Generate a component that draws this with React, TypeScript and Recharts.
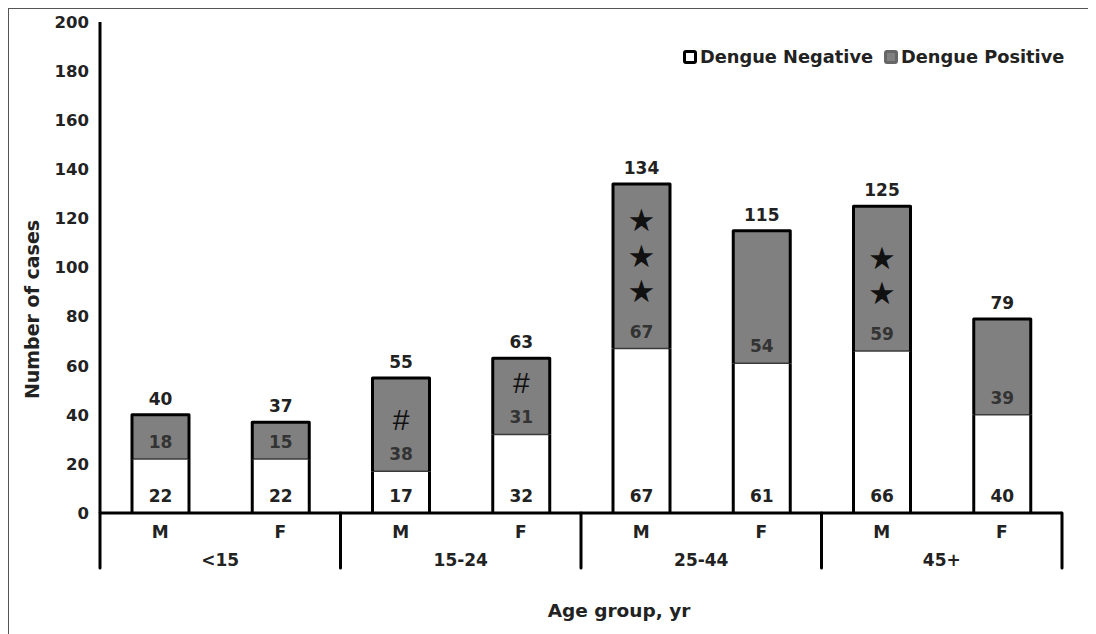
import React from 'react';
import { Bar, BarChart, LabelList, XAxis, YAxis } from 'recharts';

const SEXES = ['M', 'F', 'M', 'F', 'M', 'F', 'M', 'F'];
const AGE_GROUPS = ['<15', '15-24', '25-44', '45+'];
const NEGATIVE = [22, 22, 17, 32, 67, 61, 66, 40];
const POSITIVE = [18, 15, 38, 31, 67, 54, 59, 39];
const MARKS = ['', '', '#', '#', '★★★', '', '★★', ''];
const Y_TICKS = [0, 20, 40, 60, 80, 100, 120, 140, 160, 180, 200];

const FONT = '"DejaVu Sans", Verdana, sans-serif';
const HASH_FONT = '"Liberation Sans", Arial, sans-serif';

const data = SEXES.map((sex, i) => ({
  key: `${sex}-${i}`,
  sex,
  negative: NEGATIVE[i],
  positive: POSITIVE[i],
}));

const PLOT_WIDTH = 962;
const SLOT = PLOT_WIDTH / SEXES.length;

function NegativeShape(props: any) {
  const { x, y, width, height } = props;
  return (
    <g>
      <rect x={x} y={y} width={width} height={height} fill="#fff" />
      <line x1={x} y1={y} x2={x} y2={y + height} stroke="#000" strokeWidth={3} />
      <line x1={x + width} y1={y} x2={x + width} y2={y + height} stroke="#000" strokeWidth={3} />
    </g>
  );
}

function PositiveShape(props: any) {
  const { x, y, width, height } = props;
  return (
    <g>
      <rect x={x} y={y} width={width} height={height} fill="#808080" />
      <line x1={x} y1={y + height} x2={x + width} y2={y + height} stroke="#3a3a3a" strokeWidth={1.5} />
      <path
        d={`M${x},${y + height} L${x},${y} L${x + width},${y} L${x + width},${y + height}`}
        fill="none"
        stroke="#000"
        strokeWidth={3}
        strokeLinejoin="round"
      />
    </g>
  );
}

function NegativeLabel(props: any) {
  const { x, y, width, height, value } = props;
  return (
    <text
      x={x + width / 2}
      y={y + height - 16}
      textAnchor="middle"
      dominantBaseline="middle"
      fontFamily={FONT}
      fontWeight="bold"
      fontSize={17}
      fill="#222"
    >
      {value}
    </text>
  );
}

function PositiveLabel(props: any) {
  const { x, y, width, height, value, index } = props;
  const cx = x + width / 2;
  const labelY = y + height - 16;
  const marks = Array.from(MARKS[index] || '');
  return (
    <g>
      <text
        x={cx}
        y={labelY}
        textAnchor="middle"
        dominantBaseline="middle"
        fontFamily={FONT}
        fontWeight="bold"
        fontSize={17}
        fill="#333"
      >
        {value}
      </text>
      <text
        x={cx}
        y={y - 15}
        textAnchor="middle"
        dominantBaseline="middle"
        fontFamily={FONT}
        fontWeight="bold"
        fontSize={17}
        fill="#222"
      >
        {NEGATIVE[index] + POSITIVE[index]}
      </text>
      {marks.map((m, k) => (
        <text
          key={k}
          x={cx}
          y={labelY - (m === '#' ? 33 : 39) - k * 35.5}
          textAnchor="middle"
          dominantBaseline="middle"
          fontFamily={m === '#' ? HASH_FONT : FONT}
          fontSize={m === '#' ? 30 : 31}
          fill="#111"
        >
          {m}
        </text>
      ))}
    </g>
  );
}

function SexTick(props: any) {
  const { x, y, payload, index } = props;
  const isM = index % 2 === 0;
  return (
    <g>
      <text
        x={x}
        y={y + 20}
        textAnchor="middle"
        dominantBaseline="middle"
        fontFamily={FONT}
        fontWeight="bold"
        fontSize={17}
        fill="#222"
      >
        {payload.value}
      </text>
      {isM && (
        <text
          x={x + SLOT / 2}
          y={y + 48}
          textAnchor="middle"
          dominantBaseline="middle"
          fontFamily={FONT}
          fontWeight="bold"
          fontSize={17}
          fill="#222"
        >
          {AGE_GROUPS[index / 2]}
        </text>
      )}
      {isM && (
        <line x1={x - SLOT / 2} y1={y} x2={x - SLOT / 2} y2={y + 55} stroke="#000" strokeWidth={3} strokeLinecap="round" />
      )}
      {index === SEXES.length - 1 && (
        <line x1={x + SLOT / 2} y1={y} x2={x + SLOT / 2} y2={y + 55} stroke="#000" strokeWidth={3} strokeLinecap="round" />
      )}
    </g>
  );
}

function LegendSwatch({ fill, border }: { fill: string; border: string }) {
  return (
    <span
      style={{
        display: 'inline-block',
        width: 8,
        height: 8,
        background: fill,
        border: `3px solid ${border}`,
        borderRadius: 3,
        marginRight: 3,
      }}
    />
  );
}

export default function App() {
  return (
    <div
      style={{
        position: 'relative',
        width: 1088,
        height: 626,
        boxSizing: 'border-box',
        borderTop: '1px solid #555',
        borderLeft: '1px solid #555',
        fontFamily: FONT,
      }}
    >
      <BarChart
        width={1087}
        height={625}
        data={data}
        margin={{ top: 13, right: 34, bottom: 0, left: 31 }}
        barSize={57}
      >
        <YAxis
          width={60}
          domain={[0, 200]}
          ticks={Y_TICKS}
          interval={0}
          axisLine={{ stroke: '#000', strokeWidth: 3 }}
          tickLine={false}
          tickSize={0}
          tickMargin={11}
          tick={{ fontFamily: FONT, fontWeight: 'bold', fontSize: 16.5, fill: '#222' }}
          label={(p: any) => {
            const vb = p.viewBox;
            const cx = vb.x - 7;
            const cy = vb.y + vb.height / 2 + 42;
            return (
              <text
                x={cx}
                y={cy}
                transform={`rotate(-90 ${cx} ${cy})`}
                textAnchor="middle"
                dominantBaseline="middle"
                fontFamily={FONT}
                fontWeight="bold"
                fontSize={19}
                fill="#222"
              >
                Number of cases
              </text>
            );
          }}
        />
        <XAxis
          dataKey="sex"
          height={121}
          interval={0}
          axisLine={{ stroke: '#000', strokeWidth: 3 }}
          tickLine={false}
          tickSize={0}
          tickMargin={0}
          tick={<SexTick />}
          label={(p: any) => {
            const vb = p.viewBox;
            return (
              <text
                x={vb.x + vb.width / 2 + 38}
                y={vb.y + 99}
                textAnchor="middle"
                dominantBaseline="middle"
                fontFamily={FONT}
                fontWeight="bold"
                fontSize={18.5}
                fill="#222"
              >
                Age group, yr
              </text>
            );
          }}
        />
        <Bar dataKey="negative" stackId="a" shape={<NegativeShape />} isAnimationActive={false}>
          <LabelList dataKey="negative" content={<NegativeLabel />} />
        </Bar>
        <Bar dataKey="positive" stackId="a" shape={<PositiveShape />} isAnimationActive={false}>
          <LabelList dataKey="positive" content={<PositiveLabel />} />
        </Bar>
      </BarChart>
      <div
        style={{
          position: 'absolute',
          left: 674,
          top: 37,
          display: 'flex',
          alignItems: 'center',
          fontWeight: 'bold',
          fontSize: 17.8,
          color: '#222',
          whiteSpace: 'nowrap',
        }}
      >
        <LegendSwatch fill="#fff" border="#000" />
        <span>Dengue Negative</span>
        <span style={{ width: 11 }} />
        <LegendSwatch fill="#808080" border="#666" />
        <span>Dengue Positive</span>
      </div>
    </div>
  );
}
